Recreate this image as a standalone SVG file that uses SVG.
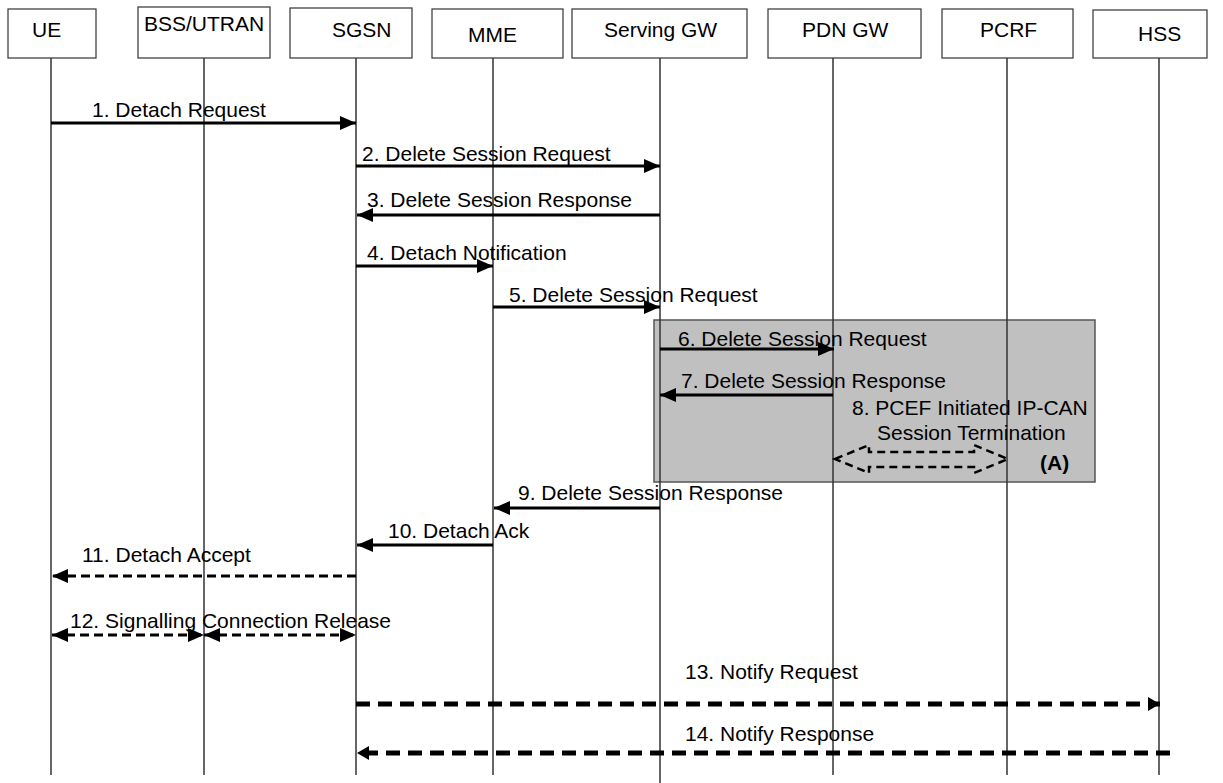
<svg xmlns="http://www.w3.org/2000/svg" width="1223" height="783" viewBox="0 0 1223 783">
<style>
text{font-family:"Liberation Sans",Arial,sans-serif;font-size:21px;fill:#000}
.box{fill:#fff;stroke:#333;stroke-width:1.2}
.life{stroke:#333;stroke-width:1.5;fill:none}
.msg{stroke:#000;stroke-width:3;fill:none}
.dmsg{stroke:#000;stroke-width:3;fill:none;stroke-dasharray:9 5}
.tmsg{stroke:#000;stroke-width:5;fill:none;stroke-dasharray:14 8}
</style>
<defs>
<marker id="ah" markerUnits="userSpaceOnUse" markerWidth="16" markerHeight="14" viewBox="0 0 16 14" refX="16" refY="7" orient="auto-start-reverse"><path d="M0,0 L16,7 L0,14 Z" fill="#000"/></marker>
<marker id="ahs" markerUnits="userSpaceOnUse" markerWidth="12" markerHeight="14" viewBox="0 0 12 14" refX="12" refY="7" orient="auto-start-reverse"><path d="M0,0 L12,7 L0,14 Z" fill="#000"/></marker>
</defs>
<rect width="1223" height="783" fill="#fff"/>
<g id="groupA">
<rect x="654" y="320" width="441" height="162" fill="#c0c0c0" stroke="#555" stroke-width="1.5"/>
</g>
<g id="node-UE"><rect class="box" x="8" y="9" width="88" height="49"/><text x="32" y="37">UE</text><line class="life" x1="51" y1="58" x2="51" y2="775"/></g>
<g id="node-BSS"><rect class="box" x="138" y="7" width="132" height="51"/><text x="144" y="31">BSS/UTRAN</text><line class="life" x1="204" y1="58" x2="204" y2="775"/></g>
<g id="node-SGSN"><rect class="box" x="290" y="8" width="122" height="50"/><text x="332" y="37">SGSN</text><line class="life" x1="356" y1="58" x2="356" y2="775" stroke="#000"/></g>
<g id="node-MME"><rect class="box" x="432" y="9" width="131" height="49"/><text x="468" y="42">MME</text><line class="life" x1="493" y1="58" x2="493" y2="775" stroke="#000"/></g>
<g id="node-SGW"><rect class="box" x="572" y="9" width="175" height="49"/><text x="604" y="37">Serving GW</text><line class="life" x1="660" y1="58" x2="660" y2="783"/></g>
<g id="node-PGW"><rect class="box" x="768" y="9" width="153" height="49"/><text x="802" y="37">PDN GW</text><line class="life" x1="833" y1="58" x2="833" y2="775"/></g>
<g id="node-PCRF"><rect class="box" x="942" y="9" width="131" height="49"/><text x="980" y="37">PCRF</text><line class="life" x1="1007" y1="58" x2="1007" y2="775"/></g>
<g id="node-HSS"><rect class="box" x="1093" y="10" width="114" height="48"/><text x="1138" y="41">HSS</text><line class="life" x1="1159" y1="58" x2="1159" y2="775" stroke="#000"/></g>
<g id="connectors">
<line class="msg" x1="51" y1="123" x2="356" y2="123" marker-end="url(#ah)"/>
<text x="92" y="117">1. Detach Request</text>
<line class="msg" x1="356" y1="166" x2="660" y2="166" marker-end="url(#ah)"/>
<text x="362" y="161">2. Delete Session Request</text>
<line class="msg" x1="660" y1="215" x2="357" y2="215" marker-end="url(#ah)"/>
<text x="367" y="207">3. Delete Session Response</text>
<line class="msg" x1="356" y1="266" x2="493" y2="266" marker-end="url(#ah)"/>
<text x="367" y="260">4. Detach Notification</text>
<line class="msg" x1="493" y1="307" x2="660" y2="307" marker-end="url(#ah)"/>
<text x="509" y="302">5. Delete Session Request</text>
<line class="msg" x1="660" y1="349" x2="834" y2="349" marker-end="url(#ah)"/>
<text x="678" y="346">6. Delete Session Request</text>
<line class="msg" x1="833" y1="395" x2="660" y2="395" marker-end="url(#ah)"/>
<text x="681" y="388">7. Delete Session Response</text>
<text x="852" y="415">8. PCEF Initiated IP-CAN</text>
<text x="877" y="440">Session Termination</text>
<path d="M835,459 L869,445 L869,452 L974,452 L974,445 L1008,459 L974,473 L974,467 L869,467 L869,473 Z" fill="none" stroke="#000" stroke-width="2.5" stroke-dasharray="8 5"/>
<text x="1040" y="470" font-weight="bold">(A)</text>
<line class="msg" x1="660" y1="508" x2="494" y2="508" marker-end="url(#ah)"/>
<text x="518" y="500">9. Delete Session Response</text>
<line class="msg" x1="493" y1="545" x2="357" y2="545" marker-end="url(#ah)"/>
<text x="388" y="538">10. Detach Ack</text>
<line class="dmsg" x1="356" y1="576" x2="52" y2="576" marker-end="url(#ah)"/>
<text x="82" y="562">11. Detach Accept</text>
<line class="dmsg" x1="52" y1="635" x2="204" y2="635" marker-start="url(#ah)" marker-end="url(#ah)"/>
<line class="dmsg" x1="204" y1="635" x2="356" y2="635" marker-start="url(#ah)" marker-end="url(#ah)"/>
<text x="70" y="628">12. Signalling Connection Release</text>
<line class="tmsg" x1="356" y1="704" x2="1160" y2="704" marker-end="url(#ahs)"/>
<text x="685" y="679">13. Notify Request</text>
<line class="tmsg" x1="1170" y1="753" x2="357" y2="753" marker-end="url(#ahs)"/>
<text x="685" y="741">14. Notify Response</text>
</g>
</svg>
